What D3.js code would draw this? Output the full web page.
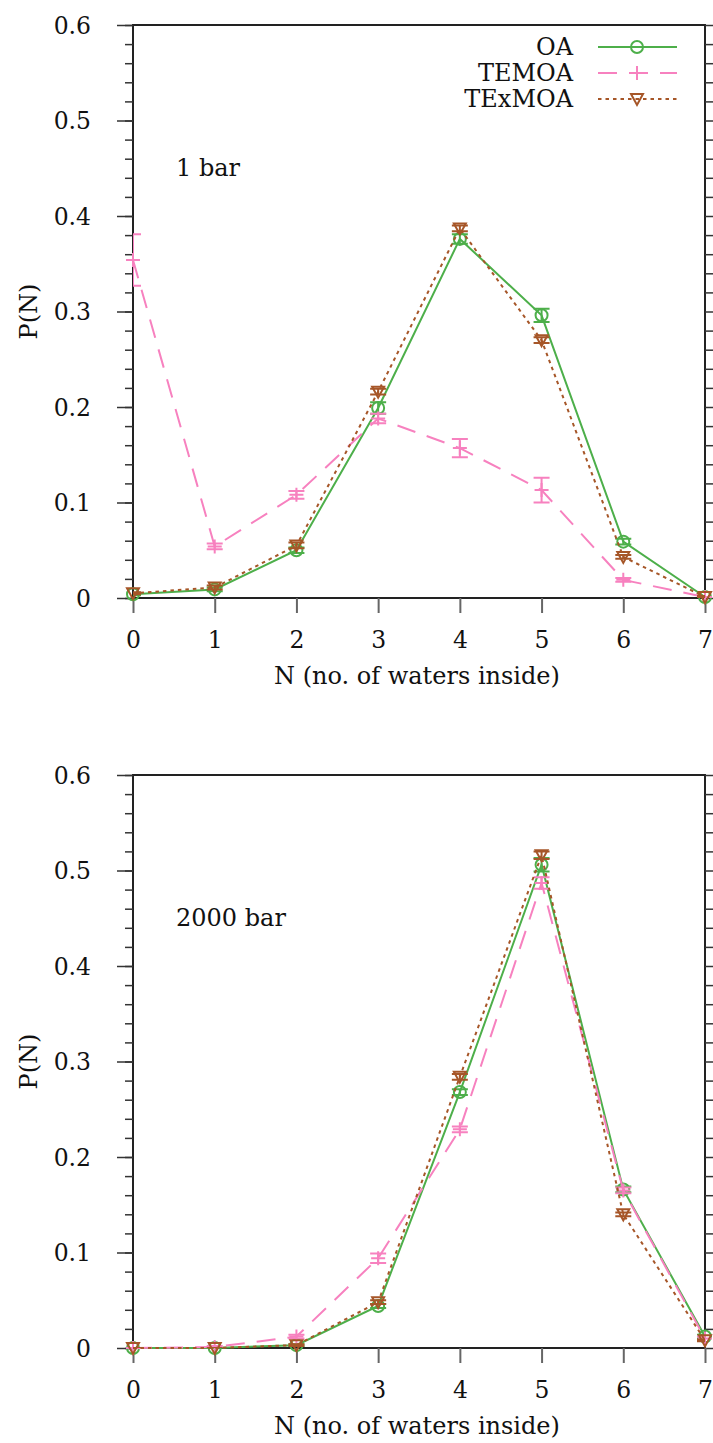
<!DOCTYPE html>
<html lang="en">
<head>
  <meta charset="UTF-8">
  <title>P(N)</title>
  <script src="https://d3js.org/d3.v7.min.js"></script>
  <style>
    body { margin: 0; background: #fff; }
    svg { display: block; font-family: "DejaVu Serif", serif; }
    .tick text { font-size: 23.5px; fill: #111; }
    .lbl { font-size: 24px; fill: #111; }
  </style>
</head>
<body>
  <div id="chart"></div>
  <script>
    // data
    const nValues = [0, 1, 2, 3, 4, 5, 6, 7];
    const yTicks = [0, 0.1, 0.2, 0.3, 0.4, 0.5, 0.6];
    const seriesNames = ["OA", "TEMOA", "TExMOA"];

    // 1 bar
    const oa1 = [0.004, 0.009, 0.050, 0.199, 0.376, 0.296, 0.059, 0.001];
    const oa1Err = [0.001, 0.002, 0.003, 0.006, 0.005, 0.007, 0.003, 0.001];
    const temoa1 = [0.354, 0.054, 0.108, 0.188, 0.157, 0.113, 0.019, 0.001];
    const temoa1Err = [0.027, 0.003, 0.004, 0.005, 0.0095, 0.013, 0.002, 0.0005];
    const texmoa1 = [0.005, 0.011, 0.055, 0.216, 0.387, 0.270, 0.043, 0.001];
    const texmoa1Err = [0.001, 0.002, 0.003, 0.003, 0.003, 0.003, 0.002, 0.001];

    // 2000 bar
    const oa2 = [0.000, 0.000, 0.003, 0.044, 0.268, 0.506, 0.166, 0.012];
    const oa2Err = [0.000, 0.000, 0.001, 0.002, 0.003, 0.007, 0.003, 0.002];
    const temoa2 = [0.000, 0.001, 0.012, 0.094, 0.229, 0.487, 0.165, 0.010];
    const temoa2Err = [0.000, 0.001, 0.002, 0.005, 0.003, 0.006, 0.003, 0.002];
    const texmoa2 = [0.000, 0.000, 0.003, 0.048, 0.284, 0.516, 0.140, 0.008];
    const texmoa2Err = [0.000, 0.000, 0.001, 0.002, 0.003, 0.004, 0.002, 0.001];

    const colors = { OA: "#4daf4a", TEMOA: "#f781bf", TExMOA: "#a65628" };
    const dashes = { OA: null, TEMOA: "19,12", TExMOA: "3.5,4" };

    const W = 713, H = 1443;
    const svg = d3.select("#chart").append("svg").attr("width", W).attr("height", H);

    function marker(g, name, cx, cy) {
      const c = colors[name];
      if (name === "OA") {
        g.append("circle").attr("cx", cx).attr("cy", cy).attr("r", 6)
          .attr("fill", "none").attr("stroke", c).attr("stroke-width", 2);
      } else if (name === "TEMOA") {
        g.append("path").attr("d", `M${cx - 7},${cy}H${cx + 7}M${cx},${cy - 7}V${cy + 7}`)
          .attr("stroke", c).attr("stroke-width", 2);
      } else {
        g.append("path").attr("d", `M${cx - 6},${cy - 5}L${cx + 6},${cy - 5}L${cx},${cy + 6}Z`)
          .attr("fill", "none").attr("stroke", c).attr("stroke-width", 2);
      }
    }

    // strip the font attributes d3.axis puts on its group
    function plain(a) {
      a.attr("font-family", null).attr("font-size", null);
      a.select(".domain").remove();
    }

    function panel(top, label, series, showLegend, id) {
      const left = 133, right = 705, bottom = top + 573;
      const x = d3.scaleLinear().domain([0, 7]).range([left, right]);
      const y = d3.scaleLinear().domain([0, 0.6]).range([bottom, top]);
      const g = svg.append("g");

      g.append("clipPath").attr("id", id).append("rect")
        .attr("x", left).attr("y", top).attr("width", right - left).attr("height", bottom - top);

      // frame
      g.append("rect").attr("x", left).attr("y", top).attr("width", right - left).attr("height", bottom - top)
        .attr("fill", "none").attr("stroke", "#222").attr("stroke-width", 2);

      // y axis left, major + minor
      const fmt = d => d === 0 ? "0" : d3.format(".1f")(d);
      g.append("g").attr("transform", `translate(${left},0)`)
        .call(d3.axisLeft(y).tickValues(d3.range(0, 0.601, 0.02)).tickSize(8).tickFormat(""))
        .call(plain)
        .call(a => a.selectAll("line").attr("stroke", "#333").attr("stroke-width", 1.5));
      g.append("g").attr("transform", `translate(${left},0)`)
        .call(d3.axisLeft(y).tickValues(yTicks).tickSize(16).tickPadding(25).tickFormat(fmt))
        .call(plain)
        .call(a => a.selectAll("line").attr("stroke", "#333").attr("stroke-width", 1.5))
        .call(a => a.selectAll("text").attr("x", -42).attr("dy", "0.36em"));

      // right side ticks
      g.append("g").attr("transform", `translate(${right},0)`)
        .call(d3.axisRight(y).tickValues(d3.range(0, 0.601, 0.02)).tickSize(8).tickFormat(""))
        .call(plain)
        .call(a => a.selectAll("line").attr("stroke", "#333").attr("stroke-width", 1.5));

      // x axis
      g.append("g").attr("transform", `translate(0,${bottom})`)
        .call(d3.axisBottom(x).tickValues(nValues).tickSize(15).tickPadding(18).tickFormat(d3.format("d")))
        .call(plain)
        .call(a => a.selectAll("line").attr("stroke", "#666").attr("stroke-width", 2));

      g.append("text").attr("class", "lbl").attr("x", (left + right) / 2 - 2).attr("y", bottom + 86)
        .attr("text-anchor", "middle").text("N (no. of waters inside)");
      g.append("text").attr("class", "lbl")
        .attr("transform", `translate(37,${(top + bottom) / 2}) rotate(-90)`)
        .attr("text-anchor", "middle").text("P(N)");
      g.append("text").attr("class", "lbl").attr("x", 176).attr("y", top + 151).text(label);

      const line = d3.line().x((d, i) => x(nValues[i])).y(d => y(d));

      series.forEach(s => {
        const c = colors[s.name];
        const sg = g.append("g");
        sg.append("path").datum(s.values).attr("d", line)
          .attr("fill", "none").attr("stroke", c).attr("stroke-width", 2)
          .attr("stroke-dasharray", dashes[s.name]);
        const eb = sg.append("g").attr("clip-path", `url(#${id})`);
        s.values.forEach((v, i) => {
          const cx = x(nValues[i]);
          const y0 = y(v - s.err[i]), y1 = y(v + s.err[i]);
          eb.append("path").attr("d", `M${cx},${y0}V${y1}M${cx - 8},${y0}H${cx + 8}M${cx - 8},${y1}H${cx + 8}`)
            .attr("stroke", c).attr("stroke-width", 2).attr("fill", "none");
        });
        s.values.forEach((v, i) => marker(sg, s.name, x(nValues[i]), y(v)));
      });

      if (showLegend) {
        seriesNames.forEach((name, i) => {
          const ly = top + 22 + i * 26;
          g.append("text").attr("class", "lbl").attr("x", 573).attr("y", ly + 8)
            .attr("text-anchor", "end").text(name);
          g.append("line").attr("x1", 598).attr("x2", 677).attr("y1", ly).attr("y2", ly)
            .attr("stroke", colors[name]).attr("stroke-width", 2)
            .attr("stroke-dasharray", dashes[name]);
          marker(g, name, 637, ly);
        });
      }
    }

    panel(25, "1 bar", [
      { name: "OA", values: oa1, err: oa1Err },
      { name: "TEMOA", values: temoa1, err: temoa1Err },
      { name: "TExMOA", values: texmoa1, err: texmoa1Err }
    ], true, "clip1");

    panel(775, "2000 bar", [
      { name: "OA", values: oa2, err: oa2Err },
      { name: "TEMOA", values: temoa2, err: temoa2Err },
      { name: "TExMOA", values: texmoa2, err: texmoa2Err }
    ], false, "clip2");
  </script>
</body>
</html>
